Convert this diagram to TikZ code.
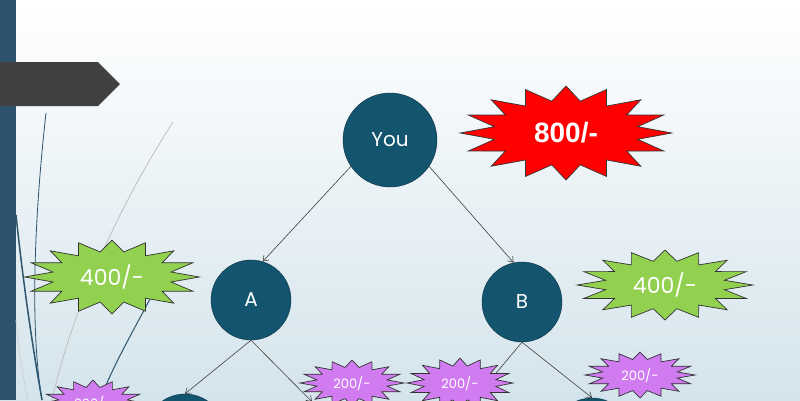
\documentclass[tikz,border=0pt]{standalone}
\usepackage{fontspec}
\setmainfont{Poppins}
\newfontfamily\arialfont{Liberation Sans}
\usetikzlibrary{arrows.meta,shapes.geometric}

\definecolor{barblue}{RGB}{45,84,108}
\definecolor{nodeblue}{RGB}{19,84,110}
\definecolor{edgeblue}{RGB}{12,50,68}
\definecolor{signgray}{RGB}{64,64,64}
\definecolor{burstgreen}{RGB}{146,208,80}
\definecolor{burstpurple}{RGB}{208,124,240}
\definecolor{bgblue}{RGB}{212,228,236}

\begin{document}
\begin{tikzpicture}[
  x=1pt, y=-1pt,
  person/.style={circle, draw=edgeblue, fill=nodeblue, text=white, minimum size=80pt, inner sep=0pt, font=\fontsize{20}{22}\selectfont},
  burst/.style={star, star points=16, star point ratio=1.45, draw=black!80, line width=0.7pt, inner sep=0pt},
  amount/.style={text=white, inner sep=0pt},
  arr/.style={-{Straight Barb[length=5pt,width=7pt]}, draw=black!75, line width=0.6pt}
]
\clip (0,0) rectangle (800,400);
\shade[top color=white, bottom color=bgblue] (0,0) rectangle (800,400);

% side bar, sign and curves
\fill[barblue] (0,0) rectangle (16,400);
\fill[signgray] (0,62) -- (98,62) -- (120,84) -- (98,106) -- (0,106) -- cycle;
\draw[barblue, line width=0.8pt] (46,113) .. controls (34,220) and (30,330) .. (42,400);
\draw[barblue, line width=1.5pt] (16,215) .. controls (25,300) and (35,360) .. (42,400);
\draw[black!25, line width=0.8pt] (173,122) .. controls (110,220) and (70,320) .. (52,400);
\draw[black!18, line width=0.8pt] (16,320) .. controls (20,360) .. (28,400);
\draw[barblue, line width=1pt] (165,270) .. controls (140,320) and (115,360) .. (100,400);

% tree
\node[person, minimum size=94pt] (you) at (390,140) {You};
\node[person] (A) at (251,300) {A};
\node[person] (B) at (522,302) {B};
\node[person] (A1) at (185,434) {};
\node[person] (A2) at (312,442) {};
\node[person] (B1) at (472,442) {};
\node[person] (B2) at (592,438) {};

\draw[arr] (you.214) -- (A.73);
\draw[arr] (you.326) -- (B.102);
\draw[arr] (A.south) -- (A1.north);
\draw[arr] (A.south) -- (A2.north);
\draw[arr] (B.south) -- (B1.north);
\draw[arr] (B.south) -- (B2.north);

% amounts
\node[burst, fill=red, minimum size=94pt, xscale=2.25] (pay800) at (566,133) {};
\node[amount, font=\arialfont\bfseries\fontsize{28}{30}\selectfont] (t800) at (pay800) {800/-};
\node[burst, fill=burstgreen, minimum size=74pt, xscale=2.36] (payA) at (112,277) {};
\node[amount, font=\fontsize{22}{24}\selectfont] (tA) at (payA) {400/-};
\node[burst, fill=burstgreen, minimum size=70pt, xscale=2.51] (payB) at (665,285) {};
\node[amount, font=\fontsize{22}{24}\selectfont] (tB) at (payB) {400/-};
\node[burst, fill=burstpurple, minimum size=46pt, xscale=2.2] (payA1) at (93,403) {};
\node[amount, font=\fontsize{13}{15}\selectfont] (tA1) at (payA1) {200/-};
\node[burst, fill=burstpurple, minimum size=46pt, xscale=2.26] (payA2) at (352,383) {};
\node[amount, font=\fontsize{13}{15}\selectfont] (tA2) at (payA2) {200/-};
\node[burst, fill=burstpurple, minimum size=50pt, xscale=2.12] (payB1) at (460,383) {};
\node[amount, font=\fontsize{13}{15}\selectfont] (tB1) at (payB1) {200/-};
\node[burst, fill=burstpurple, minimum size=46pt, xscale=2.39] (payB2) at (640,375) {};
\node[amount, font=\fontsize{13}{15}\selectfont] (tB2) at (payB2) {200/-};
\end{tikzpicture}
\end{document}
